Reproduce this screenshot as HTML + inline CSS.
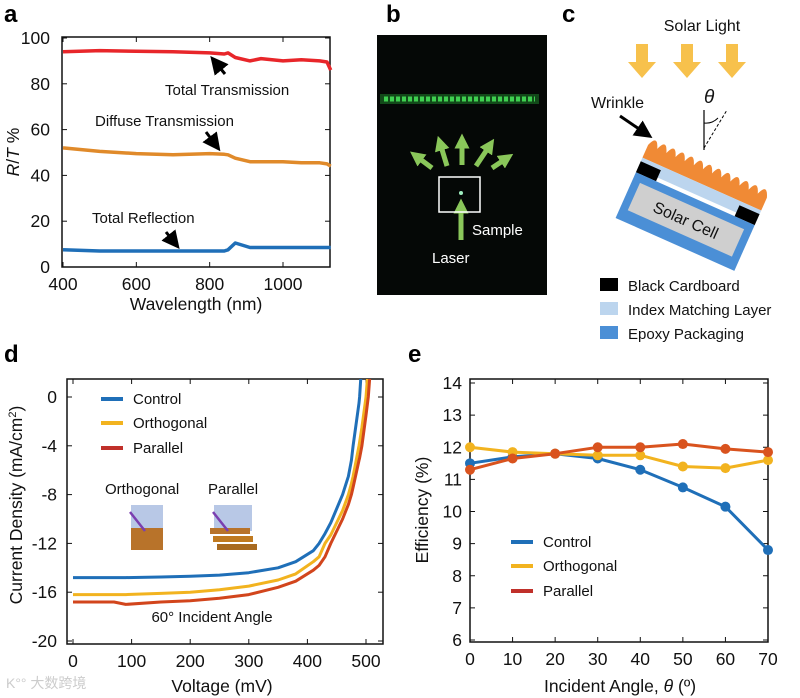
<!DOCTYPE html>
<html><head><meta charset="utf-8"><style>
body{margin:0;background:#fff}
svg{display:block;font-family:"Liberation Sans",sans-serif}
.t{font-size:17.5px;fill:#111}
.s{font-size:15px;fill:#111}
.lbl{font-size:24px;font-weight:bold;fill:#000}
</style></head><body>
<svg id="fig" width="800" height="698" viewBox="0 0 800 698" xmlns="http://www.w3.org/2000/svg">
<defs>
<marker id="ah" markerWidth="6" markerHeight="6" refX="3" refY="3" orient="auto"><path d="M0,0L6,3L0,6z" fill="#000"/></marker>
<marker id="gh" markerWidth="3" markerHeight="3" refX="1.5" refY="1.5" orient="auto"><path d="M0,0L3,1.5L0,3z" fill="#8ac75a"/></marker>
</defs>
<text class="lbl" x="4" y="22">a</text>
<text class="lbl" x="386" y="22">b</text>
<text class="lbl" x="562" y="22">c</text>
<text class="lbl" x="4" y="362">d</text>
<text class="lbl" x="408" y="362">e</text>
<g id="pa"></g>
<g id="pd"></g>
<g id="pe"></g>

<!-- panel b -->
<g>
<rect x="377" y="35" width="170" height="260" fill="#050806"/>
<line x1="380" y1="99" x2="539" y2="99" stroke="#1f8a2c" stroke-width="10" opacity="0.5"/>
<line x1="384" y1="99" x2="535" y2="99" stroke="#3fd050" stroke-width="5" stroke-dasharray="4 2"/>
<g stroke="#8ac75a" stroke-width="5" marker-end="url(#gh)">
<line x1="432" y1="168" x2="416" y2="156"/>
<line x1="447" y1="166" x2="440" y2="143"/>
<line x1="462" y1="165" x2="462" y2="141"/>
<line x1="476" y1="166" x2="490" y2="145"/>
<line x1="492" y1="168" x2="507" y2="158"/>
<line x1="461" y1="240" x2="461" y2="206"/>
</g>
<rect x="439" y="177" width="41" height="35" fill="none" stroke="#fff" stroke-width="1.5"/>
<circle cx="461" cy="193" r="2" fill="#9ff0c0"/>
<text x="472" y="235" fill="#fff" style="font-size:15px">Sample</text>
<text x="432" y="263" fill="#fff" style="font-size:15px">Laser</text>
</g>

<!-- panel c -->
<g>
<text x="702" y="31" text-anchor="middle" class="t" style="font-size:16px">Solar Light</text>
<g fill="#f7c14c">
<path d="M636,44h12v18h8l-14,16l-14,-16h8z"/>
<path d="M681,44h12v18h8l-14,16l-14,-16h8z"/>
<path d="M726,44h12v18h8l-14,16l-14,-16h8z"/>
</g>
<text x="591" y="108" class="t" style="font-size:16px">Wrinkle</text>
<line x1="620" y1="116" x2="645" y2="133" stroke="#000" stroke-width="3" marker-end="url(#ah)"/>
<text x="704" y="103" style="font-size:19px;font-style:italic" fill="#111">θ</text>
<line x1="704" y1="110" x2="704" y2="150" stroke="#000" stroke-width="1.2"/>
<line x1="704" y1="148" x2="727" y2="110" stroke="#000" stroke-width="1" stroke-dasharray="3 2"/>
<path d="M704,123 Q712,124 718,118" fill="none" stroke="#000"/>
<g transform="translate(695,192) rotate(24)">
<path d="M-62,-24 q5,-14 10,0 q5,-14 10,0 q5,-14 10,0 q5,-14 10,0 q5,-14 10,0 q5,-14 10,0 q5,-14 10,0 q5,-14 10,0 q5,-14 10,0 q5,-14 10,0 q5,-14 10,0 q5,-14 10,0 q5,-14 10,0 V-10 H-62z" fill="#f08a35"/>
<rect x="-62" y="-10" width="130" height="12" fill="#bcd5ee"/>
<rect x="-62" y="-6" width="22" height="12" fill="#000"/>
<rect x="46" y="-6" width="22" height="12" fill="#000"/>
<rect x="-62" y="6" width="130" height="50" fill="#4b8fd6"/>
<rect x="-54" y="14" width="114" height="30" fill="#cfcfcf"/>
<text x="3" y="35" text-anchor="middle" style="font-size:16px" fill="#111">Solar Cell</text>
</g>
<rect x="600" y="278" width="18" height="13" fill="#000"/>
<rect x="600" y="302" width="18" height="13" fill="#bcd5ee"/>
<rect x="600" y="326" width="18" height="13" fill="#4b8fd6"/>
<text x="628" y="291" class="s" style="font-size:15px">Black Cardboard</text>
<text x="628" y="315" class="s" style="font-size:15px">Index Matching Layer</text>
<text x="628" y="339" class="s" style="font-size:15px">Epoxy Packaging</text>
</g>
<text x="6" y="688" style="font-size:14px" fill="#ccc">K°° 大数跨境</text>
</svg>
<script>
// Panel a data
const aWl=[400,500,600,700,800,840,850,870,910,940,1000,1050,1100,1120,1130];
const aTotalT=[94,94.5,94.2,94,93.5,93,93.5,91.5,90,91,90,90.5,90,89.5,86];
const aDiffT=[52,50.5,49.5,49,49.5,49.2,49,47.5,46,46,46,45.5,45.5,45,44];
const aRefl=[7.5,7,7,7,7,7,7.5,10.5,8.5,8.5,8.5,8.5,8.5,8.5,8.5];
const aXTicks=[400,600,800,1000];
const aYTicks=[0,20,40,60,80,100];
// Panel d data
const dV=[0,70,90,150,200,250,300,350,380,410,420,430,440,460,470,475,478,488,489,493,500,504,510];
const dControl=[-14.8,-14.8,-14.8,-14.75,-14.7,-14.6,-14.4,-14.0,-13.5,-12.6,-12,-11.2,-10.3,-8,-6.5,-5.2,-4,-0.5,0,3,8,10,14];
const dOrth=[-16.2,-16.2,-16.2,-16.1,-16.0,-15.8,-15.5,-15.0,-14.5,-13.5,-13.1,-12,-11.3,-9.3,-8,-7.1,-6.5,-4,-3.7,-2.5,0,2.5,8];
const dPar=[-16.8,-16.8,-17,-16.8,-16.7,-16.5,-16.2,-15.6,-15.1,-14.2,-13.8,-13.1,-12,-10,-8.8,-8,-7.4,-5.2,-5,-4,-1.5,0,4];
const dXTicks=[0,100,200,300,400,500];
const dYTicks=[0,-4,-8,-12,-16,-20];
// Panel e data
const eAngle=[0,10,20,30,40,50,60,70];
const eControl=[11.5,11.7,11.8,11.65,11.3,10.75,10.15,8.8];
const eOrth=[12.0,11.85,11.8,11.75,11.75,11.4,11.35,11.6];
const ePar=[11.3,11.65,11.8,12.0,12.0,12.1,11.95,11.85];
const eXTicks=[0,10,20,30,40,50,60,70];
const eYTicks=[6,7,8,9,10,11,12,13,14];

const NS="http://www.w3.org/2000/svg";
function mk(p,tag,attrs,txt){const e=document.createElementNS(NS,tag);for(const k in attrs)e.setAttribute(k,attrs[k]);if(txt!==undefined)e.textContent=txt;p.appendChild(e);return e;}
function lin(d0,d1,r0,r1){return v=>r0+(v-d0)*(r1-r0)/(d1-d0);}
function frame(g,x0,y0,x1,y1,xs,ys,xt,yt,tickY,tickX){
  const b=mk(g,'rect',{x:x0,y:y0,width:x1-x0,height:y1-y0,fill:'none',stroke:'#111','stroke-width':1.5});
  
  
  xt.forEach(v=>{const x=xs(v);mk(g,'line',{x1:x,y1:y1,x2:x,y2:y1-5,stroke:'#111'});mk(g,'line',{x1:x,y1:y0,x2:x,y2:y0+5,stroke:'#111'});
    const t=mk(g,'text',{x:x,y:tickX,'text-anchor':'middle',class:'t'},v);
    
    });
  yt.forEach(v=>{const y=ys(v);mk(g,'line',{x1:x0,y1:y,x2:x0+5,y2:y,stroke:'#111'});mk(g,'line',{x1:x1,y1:y,x2:x1-5,y2:y,stroke:'#111'});
    const t=mk(g,'text',{x:tickY,y:y+6,'text-anchor':'end',class:'t'},v);
    
    });
}
function series(g,xs,ys,X,Y,color,w,name,dots){
  const pts=X.map((x,i)=>xs(x).toFixed(1)+','+ys(Y[i]).toFixed(1)).join(' ');
  const p=mk(g,'polyline',{points:pts,fill:'none',stroke:color,'stroke-width':w,'stroke-linejoin':'round'});
  
  
  if(dots)X.forEach((x,i)=>{const c=mk(g,'circle',{cx:xs(x),cy:ys(Y[i]),r:5,fill:color});
    
    });
}
// Panel a
(function(){
 const g=document.getElementById('pa');
 const xs=lin(400,1000,63,283), ys=lin(0,100,267,38);
 frame(g,62,37,330,267,xs,ys,aXTicks,aYTicks,50,290);
 series(g,xs,ys,aWl,aTotalT,'#e8262a',3.5,'total-transmission-line');
 series(g,xs,ys,aWl,aDiffT,'#e08a2a',3.5,'diffuse-transmission-line');
 series(g,xs,ys,aWl,aRefl,'#1f6fb8',3.5,'total-reflection-line');
 const ann=[['Total Transmission',165,95],['Diffuse Transmission',95,126],['Total Reflection',92,223]];
 ann.forEach(a=>{const t=mk(g,'text',{x:a[1],y:a[2],class:'s'},a[0]);
   
   });
 mk(g,'line',{x1:225,y1:74,x2:216,y2:63,stroke:'#000','stroke-width':3,'marker-end':'url(#ah)'});
 mk(g,'line',{x1:206,y1:132,x2:215,y2:144,stroke:'#000','stroke-width':3,'marker-end':'url(#ah)'});
 mk(g,'line',{x1:166,y1:232,x2:174,y2:242,stroke:'#000','stroke-width':3,'marker-end':'url(#ah)'});
 const yt=mk(g,'text',{x:0,y:0,class:'t',transform:'translate(19,152) rotate(-90)','text-anchor':'middle'});
 yt.innerHTML='<tspan font-style="italic">R</tspan>/<tspan font-style="italic">T</tspan> %';
 
 
 const xt=mk(g,'text',{x:196,y:310,'text-anchor':'middle',class:'t'},'Wavelength (nm)');
 
 
})();
// Panel d
(function(){
 const g=document.getElementById('pd');
 const xs=lin(0,500,73,366), ys=lin(0,-20,397,641);
 frame(g,67,379,383,644,xs,ys,dXTicks,dYTicks,57,667);
 const cp=mk(g,'clipPath',{id:'cd'});mk(cp,'rect',{x:67,y:379,width:316,height:265});
 const s=mk(g,'g',{'clip-path':'url(#cd)'});
 series(s,xs,ys,dV,dControl,'#1f6fb8',3,'control-iv-curve');
 series(s,xs,ys,dV,dOrth,'#f2b31f',3,'orthogonal-iv-curve');
 series(s,xs,ys,dV,dPar,'#d2451c',3,'parallel-iv-curve');
 [['Control','#1f6fb8',399],['Orthogonal','#f2b31f',423],['Parallel','#c0302a',448]].forEach(l=>{
   mk(g,'line',{x1:101,y1:l[2],x2:123,y2:l[2],stroke:l[1],'stroke-width':4});
   const t=mk(g,'text',{x:133,y:l[2]+5,class:'s'},l[0]);
   
   });
 mk(g,'text',{x:105,y:494,class:'s'},'Orthogonal');
 mk(g,'text',{x:208,y:494,class:'s'},'Parallel');
 mk(g,'rect',{x:131,y:505,width:32,height:26,fill:'#b8c8e6'});
 mk(g,'rect',{x:131,y:528,width:32,height:22,fill:'#b8732a'});
 mk(g,'rect',{x:214,y:505,width:38,height:26,fill:'#b8c8e6'});
 mk(g,'rect',{x:210,y:528,width:40,height:6,fill:'#b8732a'});
 mk(g,'rect',{x:213,y:536,width:40,height:6,fill:'#c07a20'});
 mk(g,'rect',{x:217,y:544,width:40,height:6,fill:'#a86a20'});
 mk(g,'line',{x1:130,y1:512,x2:145,y2:531,stroke:'#7a3fb0','stroke-width':2.5});
 mk(g,'line',{x1:213,y1:512,x2:228,y2:531,stroke:'#7a3fb0','stroke-width':2.5});
 mk(g,'text',{x:212,y:622,'text-anchor':'middle',class:'s'},'60° Incident Angle');
 const yt=mk(g,'text',{x:0,y:0,class:'t',transform:'translate(22,505) rotate(-90)','text-anchor':'middle'});
 yt.innerHTML='Current Density (mA/cm<tspan dy="-6" font-size="11">2</tspan><tspan dy="6">)</tspan>';
 
 
 const xt=mk(g,'text',{x:222,y:692,'text-anchor':'middle',class:'t'},'Voltage (mV)');
 
 
})();
// Panel e
(function(){
 const g=document.getElementById('pe');
 const xs=lin(0,70,470,768), ys=lin(6,14,640,383);
 frame(g,470,379,768,642,xs,ys,eXTicks,eYTicks,462,665);
 series(g,xs,ys,eAngle,eControl,'#1f6fb8',3,'control-efficiency',true);
 series(g,xs,ys,eAngle,eOrth,'#f2b31f',3,'orthogonal-efficiency',true);
 series(g,xs,ys,eAngle,ePar,'#d9531e',3,'parallel-efficiency',true);
 [['Control','#1f6fb8',542],['Orthogonal','#f2b31f',566],['Parallel','#c0302a',591]].forEach(l=>{
   mk(g,'line',{x1:511,y1:l[2],x2:533,y2:l[2],stroke:l[1],'stroke-width':4});
   const t=mk(g,'text',{x:543,y:l[2]+5,class:'s'},l[0]);
   
   });
 const yt=mk(g,'text',{x:0,y:0,class:'t',transform:'translate(428,510) rotate(-90)','text-anchor':'middle'},'Efficiency (%)');
 
 
 const xt=mk(g,'text',{x:620,y:692,'text-anchor':'middle',class:'t'});
 xt.innerHTML='Incident Angle, <tspan font-style="italic">θ</tspan> (º)';
 
 
})();
</script>
</body></html>
